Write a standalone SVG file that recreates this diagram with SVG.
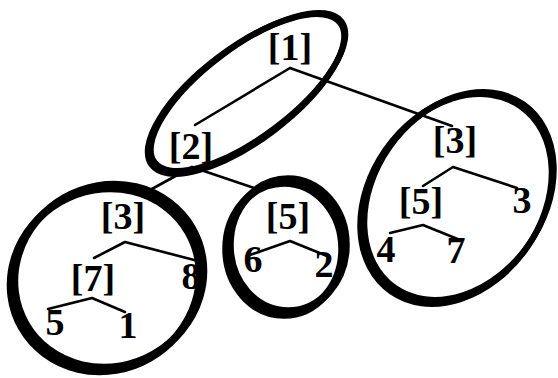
<svg xmlns="http://www.w3.org/2000/svg" width="558" height="378" viewBox="0 0 558 378">
<style>
.ring{fill:none;stroke:#000;stroke-width:6}
.thick{stroke-width:7.5}
.ln{fill:none;stroke:#000;stroke-width:2.6;stroke-linejoin:round;stroke-linecap:round}
text{font-family:"Liberation Serif","Times New Roman",serif;font-size:38px;font-weight:bold;fill:#000;text-anchor:middle}
</style>
<rect width="558" height="378" fill="#fff"/>
<g id="rings">
<g id="ring-top">
<ellipse class="ring" cx="246" cy="94" rx="118" ry="46" transform="rotate(-37 246 94)"/>
<ellipse class="ring" cx="248" cy="92" rx="117" ry="45" transform="rotate(-37 248 92)"/>
</g>
<g id="ring-left">
<ellipse class="ring thick" cx="105" cy="280" rx="96" ry="90" transform="rotate(-30 105 280)"/>
<ellipse class="ring thick" cx="109" cy="276" rx="96" ry="90" transform="rotate(-30 109 276)"/>
</g>
<g id="ring-mid">
<ellipse class="ring thick" cx="284" cy="249" rx="58" ry="66"/>
<ellipse class="ring thick" cx="288" cy="245" rx="58" ry="66"/>
</g>
<g id="ring-right">
<ellipse class="ring" cx="456" cy="199" rx="113" ry="86" transform="rotate(-55 456 199)"/>
<ellipse class="ring" cx="459" cy="196" rx="112" ry="85" transform="rotate(-55 459 196)"/>
</g>
</g>
<g id="connectors">
<path class="ln" d="M290 68 L195 125"/>
<path class="ln" d="M290 68 L452 126"/>
<path class="ln" d="M192 167 L150 190"/>
<path class="ln" d="M192 167 L260 190"/>
<path class="ln" d="M94 258 L125 242 L198 261"/>
<path class="ln" d="M48 309 L92 298 L125 312"/>
<path class="ln" d="M247 256 L290 241 L327 256"/>
<path class="ln" d="M423 186 L453 167 L517 188"/>
<path class="ln" d="M390 233 L423 225 L460 240"/>
</g>
<g id="n1"><text x="290" y="60">[1]</text></g>
<g id="n2"><text x="191" y="159">[2]</text></g>
<g id="n3r"><text x="455" y="153">[3]</text></g>
<g id="n5r"><text x="421" y="214">[5]</text></g>
<g id="l3"><text x="522" y="213">3</text></g>
<g id="l4"><text x="386" y="262">4</text></g>
<g id="l7"><text x="456" y="263">7</text></g>
<g id="n3l"><text x="123" y="229">[3]</text></g>
<g id="n7"><text x="93" y="291">[7]</text></g>
<g id="l8"><text x="191" y="289">8</text></g>
<g id="l5"><text x="55" y="335">5</text></g>
<g id="l1"><text x="128" y="338">1</text></g>
<g id="n5m"><text x="288" y="229">[5]</text></g>
<g id="l6"><text x="253" y="272">6</text></g>
<g id="l2"><text x="324" y="277">2</text></g>
</svg>
